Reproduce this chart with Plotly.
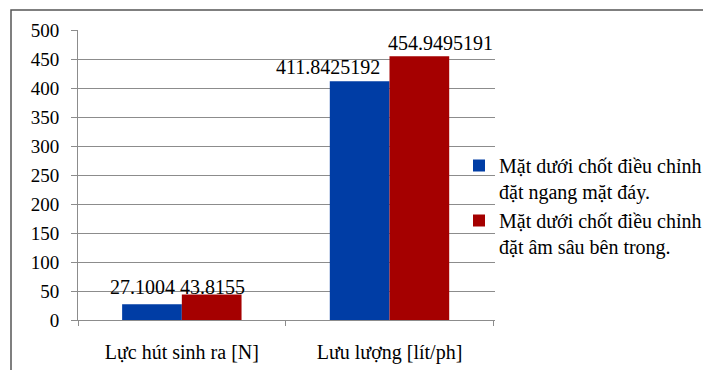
import plotly.graph_objects as go

# Chart data
categories = ["Lực hút sinh ra [N]", "Lưu lượng [lít/ph]"]
series_names = [
    "Mặt dưới chốt điều chỉnh<br>đặt ngang mặt đáy.",
    "Mặt dưới chốt điều chỉnh<br>đặt âm sâu bên trong.",
]
flush_values = [27.1004, 411.8425192]
recessed_values = [43.8155, 454.9495191]
y_ticks = [0, 50, 100, 150, 200, 250, 300, 350, 400, 450, 500]

FONT = "Liberation Serif, Times New Roman, serif"
BLUE = "#003DA5"
RED = "#A50000"
GRID = "#8C8C8C"

W, H = 703, 370
ML, MR, MT, MB = 78, 208, 30, 50
PW = W - ML - MR
PH = H - MT - MB


def px_to_paper_x(px):
    return (px - ML) / PW


def px_to_paper_y(py):
    return (H - MB - py) / PH


fig = go.Figure()
for name, vals, color in [
    (series_names[0], flush_values, BLUE),
    (series_names[1], recessed_values, RED),
]:
    fig.add_trace(
        go.Bar(
            x=categories,
            y=vals,
            name=name,
            marker=dict(color=color, line=dict(width=0)),
        )
    )

# Value labels, nudged sideways so neighbouring labels do not collide
label_shift_x = [[-39, -62], [31, 51]]
label_shift_y = [[17, 14], [8, 13]]
for s, vals in enumerate([flush_values, recessed_values]):
    for c, v in enumerate(vals):
        fig.add_annotation(
            x=categories[c],
            y=v,
            text=str(v),
            showarrow=False,
            xanchor="center",
            yanchor="middle",
            xshift=label_shift_x[s][c],
            yshift=label_shift_y[s][c],
            font=dict(family=FONT, size=20, color="#000000"),
        )

fig.update_layout(
    width=W,
    height=H,
    margin=dict(l=ML, r=MR, t=MT, b=MB, pad=0, autoexpand=False),
    paper_bgcolor="white",
    plot_bgcolor="white",
    barmode="group",
    bargap=0.425,
    bargroupgap=0,
    font=dict(family=FONT, size=20, color="#000000"),
    legend=dict(
        x=px_to_paper_x(459),
        y=px_to_paper_y(146),
        xanchor="left",
        yanchor="top",
        font=dict(family=FONT, size=20, color="#000000"),
        bgcolor="rgba(0,0,0,0)",
        valign="top",
        itemwidth=30,
        tracegroupgap=0,
    ),
    showlegend=True,
)

fig.update_xaxes(
    showgrid=False,
    showline=True,
    linecolor=GRID,
    linewidth=1,
    ticks="outside",
    tickson="boundaries",
    ticklen=5,
    tickcolor=GRID,
    ticklabelstandoff=14,
    tickfont=dict(family=FONT, size=20, color="#000000"),
)
fig.update_yaxes(
    range=[0, 500],
    tickvals=y_ticks,
    showgrid=True,
    gridcolor=GRID,
    gridwidth=1,
    showline=True,
    linecolor=GRID,
    linewidth=1,
    ticks="outside",
    ticklen=6,
    tickcolor=GRID,
    ticklabelstandoff=8,
    zeroline=False,
    tickfont=dict(family=FONT, size=19, color="#000000"),
)

# Outer chart frame
fig.add_shape(
    type="rect",
    xref="paper",
    yref="paper",
    x0=px_to_paper_x(11),
    y0=px_to_paper_y(420),
    x1=px_to_paper_x(760),
    y1=px_to_paper_y(10),
    line=dict(color="#555555", width=1.5),
    layer="below",
)

fig.write_html("out.html")
